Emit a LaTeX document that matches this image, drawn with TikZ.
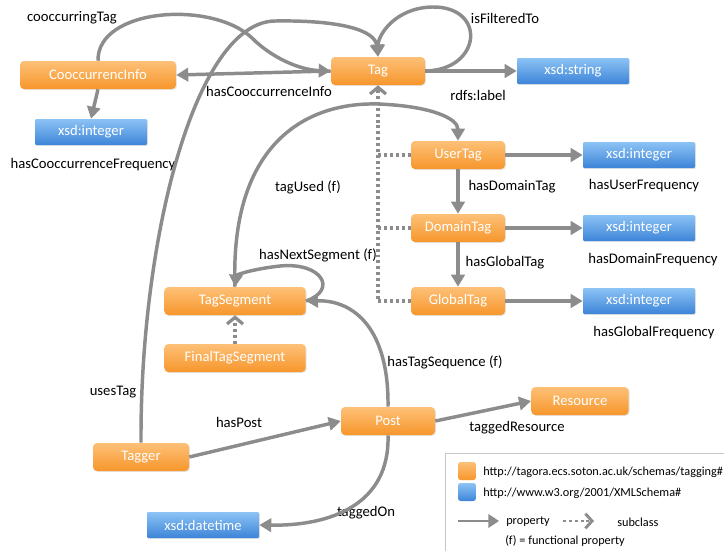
\documentclass[tikz,border=0pt]{standalone}
\usepackage{fontspec}
\setmainfont{Carlito}
\usetikzlibrary{arrows.meta}
\usetikzlibrary{shadows}
\definecolor{clsTop}{HTML}{FDC077}
\definecolor{clsBot}{HTML}{F7962C}
\definecolor{dtTop}{HTML}{8CC3F5}
\definecolor{dtBot}{HTML}{3D84D8}
\definecolor{edgeGray}{HTML}{8C8C8C}
\tikzset{>={Triangle[length=9pt,width=10pt]}}
\tikzset{cls/.style={rectangle,rounded corners=3pt,top color=clsTop,bottom color=clsBot,text=white,minimum width=70.5pt,minimum height=21pt,inner sep=0pt,font=\fontsize{11}{13}\selectfont,drop shadow={shadow xshift=0.7pt,shadow yshift=-0.7pt,opacity=0.2}}}
\tikzset{dtype/.style={rectangle,rounded corners=0.8pt,top color=dtTop,bottom color=dtBot,text=white,minimum width=84pt,minimum height=19.5pt,inner sep=0pt,font=\fontsize{11}{13}\selectfont,drop shadow={shadow xshift=0.7pt,shadow yshift=-0.7pt,opacity=0.2}}}
\tikzset{lbl/.style={inner sep=0pt,font=\fontsize{11}{13}\selectfont}}
\tikzset{prop/.style={draw=edgeGray,line width=2.6pt,->}}
\tikzset{subcls/.style={draw=edgeGray,line width=2.4pt,dash pattern=on 2.2pt off 2.2pt}}
\tikzset{subtip/.style={subcls,-{Straight Barb[length=5pt,width=12pt,line width=2.4pt]}}}
\tikzset{legendtxt/.style={inner sep=0pt,anchor=west,font=\fontsize{9.2}{11}\selectfont}}

\begin{document}
\begin{tikzpicture}[x=0.75pt,y=-0.75pt]
                    \useasboundingbox (0,0) rectangle (724,550);

                    \node[cls,minimum width=117pt] (coocInfo) at (98,75) {CooccurrencInfo};
                    \node[cls] (tag) at (378,71) {Tag};
                    \node[dtype] (xsdString) at (573,71) {xsd:string};
                    \node[dtype] (coocInt) at (91,132) {xsd:integer};
                    \node[cls] (userTag) at (458,155) {UserTag};
                    \node[dtype] (userInt) at (639,155) {xsd:integer};
                    \node[cls] (domainTag) at (458,228) {DomainTag};
                    \node[dtype] (domainInt) at (639,228) {xsd:integer};
                    \node[cls] (globalTag) at (458,301) {GlobalTag};
                    \node[dtype] (globalInt) at (639,301) {xsd:integer};
                    \node[cls,minimum width=106pt] (tagSeg) at (235,301) {TagSegment};
                    \node[cls,minimum width=106pt] (finalSeg) at (235,358) {FinalTagSegment};
                    \node[cls] (post) at (388,421) {Post};
                    \node[cls,minimum width=73pt] (resource) at (580,401) {Resource};
                    \node[cls,minimum width=72pt] (tagger) at (141,457) {Tagger};
                    \node[dtype] (xsdDate) at (203,525) {xsd:datetime};

                    \node[lbl] (lCoocTag) at (72,18) {cooccurringTag};
                    \node[lbl] (lFiltered) at (505,18) {isFilteredTo};
                    \node[lbl] (lCoocInfo) at (269,91) {hasCooccurrenceInfo};
                    \node[lbl] (lRdfs) at (478,95) {rdfs:label};
                    \node[lbl] (lCoocFreq) at (93,165) {hasCooccurrenceFrequency};
                    \node[lbl] (lUserFreq) at (644,186) {hasUserFrequency};
                    \node[lbl] (lDomainFreq) at (653,260) {hasDomainFrequency};
                    \node[lbl] (lGlobalFreq) at (654,333) {hasGlobalFrequency};
                    \node[lbl] (lDomainTag) at (512,187) {hasDomainTag};
                    \node[lbl] (lGlobalTag) at (505,263) {hasGlobalTag};
                    \node[lbl] (lTagUsed) at (308,187) {tagUsed (f)};
                    \node[lbl] (lNextSeg) at (318,255) {hasNextSegment (f)};
                    \node[lbl] (lTagSeq) at (445,362) {hasTagSequence (f)};
                    \node[lbl] (lUsesTag) at (113,392) {usesTag};
                    \node[lbl] (lHasPost) at (239,422) {hasPost};
                    \node[lbl] (lResource) at (517,428) {taggedResource};
                    \node[lbl] (lTaggedOn) at (366,513) {taggedOn};

                    \draw[prop] (coocInfo.north) .. controls (97,8) and (212,0) .. (252,38) .. controls (272,58) and (300,70) .. (tag.west);
                    \draw[prop] (tag.west) -- (coocInfo.east);
                    \draw[prop] (coocInfo.south) -- (coocInt.north);
                    \draw[prop] (tag.east) .. controls (482,70) and (487,6) .. (432,7) .. controls (395,8) and (378,35) .. (tag.north);
                    \draw[prop] (tag.east) -- (xsdString.west);
                    \draw[prop] (tagger.north) .. controls (140,240) and (195,22) .. (275,21) .. controls (340,20) and (375,30) .. (tag.north);
                    \draw[prop] (tagSeg.north) .. controls (230,150) and (300,102) .. (378,104) .. controls (430,106) and (458,118) .. (userTag.north);
                    \draw[prop] (tagSeg.east) .. controls (338,290) and (322,262) .. (280,266) .. controls (252,269) and (236,275) .. (tagSeg.north);
                    \draw[prop] (userTag.east) -- (userInt.west);
                    \draw[prop] (domainTag.east) -- (domainInt.west);
                    \draw[prop] (globalTag.east) -- (globalInt.west);
                    \draw[prop] (userTag.south) -- (domainTag.north);
                    \draw[prop] (domainTag.south) -- (globalTag.north);
                    \draw[prop] (post.north) .. controls (389,330) and (355,300) .. (tagSeg.east);
                    \draw[prop] (tagger.east) -- (post.west);
                    \draw[prop] (post.east) -- (resource.west);
                    \draw[prop] (post.south) .. controls (390,505) and (330,526) .. (xsdDate.east);

                    \draw[subtip] (globalTag.west) -| (tag.south);
                    \draw[subcls] (userTag.west) -- (userTag.west -| tag.south);
                    \draw[subcls] (domainTag.west) -- (domainTag.west -| tag.south);
                    \draw[subtip] (finalSeg.north) -- (tagSeg.south);

                    \draw[draw=black!22,line width=0.6pt] (445,453) rectangle (730,556);
                    \node[rectangle,rounded corners=2pt,top color=clsTop,bottom color=clsBot,minimum size=13.5pt,inner sep=0pt] (keyCls) at (467,471) {};
                    \node[rectangle,rounded corners=2pt,top color=dtTop,bottom color=dtBot,minimum size=13.5pt,inner sep=0pt] (keyDt) at (467,492) {};
                    \node[legendtxt] (keyClsTxt) at (483,472) {http://tagora.ecs.soton.ac.uk/schemas/tagging\#};
                    \node[legendtxt] (keyDtTxt) at (483,493) {http://www.w3.org/2001/XMLSchema\#};
                    \coordinate (propA) at (458,521);
                    \coordinate (propB) at (499,521);
                    \draw[prop,line width=2.2pt,-{Triangle[length=8pt,width=10pt]}] (propA) -- (propB);
                    \node[legendtxt] (keyProp) at (506,522) {property};
                    \coordinate (subA) at (563,521);
                    \coordinate (subB) at (594,521);
                    \draw[subcls,line width=2.2pt,-{Straight Barb[length=5pt,width=11pt,line width=2.2pt]}] (subA) -- (subB);
                    \node[legendtxt] (keySub) at (617,522) {subclass};
                    \node[legendtxt] (keyFunc) at (505,541) {(f) = functional property};

                \end{tikzpicture}
\end{document}
